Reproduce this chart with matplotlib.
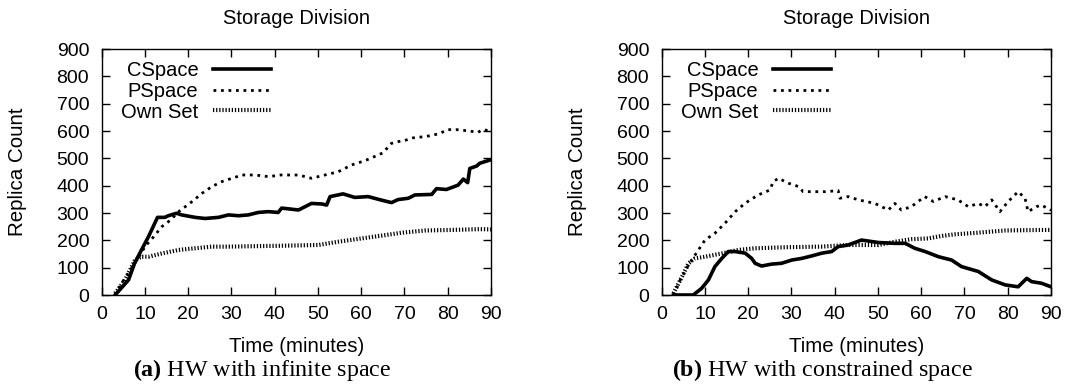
import numpy as np
import matplotlib
matplotlib.use('Agg')
import matplotlib.pyplot as plt

plt.rcParams['font.family'] = ['Liberation Sans', 'DejaVu Sans']
plt.rcParams['font.size'] = 14
plt.rcParams['mathtext.fontset'] = 'custom'
plt.rcParams['mathtext.rm'] = 'Liberation Serif'
plt.rcParams['mathtext.bf'] = 'Liberation Serif:bold'

# (a) HW with infinite space
a_cs_x = [3.1, 6.2, 7.6, 9.6, 10.8, 11.9, 12.9, 14.6, 15.4, 17.3, 18.5, 21.6, 23.9, 27.0, 29.3, 31.6, 33.9, 36.2,
          38.5, 40.8, 41.6, 45.5, 48.5, 50.9, 52.0, 52.8, 55.8, 58.5, 61.6, 64.7, 67.0, 68.5, 70.9, 72.4, 76.3,
          77.4, 79.7, 82.4, 83.6, 84.6, 85.1, 86.7, 87.4, 90.0]
a_cs_y = [0, 55, 116, 177, 213, 250, 284, 284, 290, 299, 293, 284, 280, 284, 293, 290, 293, 302,
          305, 302, 318, 311, 335, 333, 329, 360, 370, 357, 360, 347, 338, 349, 354, 366, 368,
          389, 386, 402, 424, 411, 463, 472, 482, 495]
a_ps_x = [3.1, 4.6, 6.9, 8.9, 10.0, 12.0, 13.9, 15.9, 17.8, 20.9, 23.2, 25.5, 27.8, 30.1, 32.5, 35.5, 38.6, 41.3,
          45.5, 48.5, 51.6, 54.7, 57.8, 60.8, 63.9, 65.0, 67.0, 68.5, 70.0, 72.0, 75.0, 78.0, 80.0, 82.0, 85.0,
          87.0, 88.0, 90.0]
a_ps_y = [0, 43, 98, 147, 177, 213, 250, 274, 305, 342, 372, 397, 415, 427, 439, 439, 433, 439,
          439, 427, 439, 451, 476, 491, 512, 520, 555, 561, 565, 575, 580, 590, 605, 605, 600,
          595, 605, 600]
a_os_x = [3.1, 5.4, 7.7, 9.2, 10.8, 13.9, 17.8, 21.6, 25.5, 29.3, 40.8, 50.1, 54.7, 60.1, 65.5, 69.4, 74.8, 80.9,
          87.4, 90.0]
a_os_y = [6, 55, 128, 140, 140, 152, 165, 171, 177, 177, 180, 183, 195, 207, 219, 228, 236, 238,
          241, 240]

# (b) HW with constrained space
b_cs_x = [2.7, 7.3, 9.2, 10.8, 12.3, 13.9, 15.4, 17.0, 19.3, 20.8, 21.6, 23.1, 25.4, 27.7, 30.1, 32.4, 34.7, 37.0,
          39.3, 40.8, 43.1, 46.2, 50.1, 53.9, 56.3, 58.5, 60.9, 64.0, 67.0, 69.3, 73.2, 76.3, 79.4, 82.4, 84.4,
          85.5, 87.8, 90.0]
b_cs_y = [0, 0, 24, 55, 104, 134, 159, 159, 153, 134, 116, 106, 113, 116, 128, 134, 143, 153,
          159, 177, 183, 201, 192, 189, 189, 171, 159, 140, 128, 104, 86, 55, 37, 30, 61,
          49, 43, 30]
b_ps_x = [2.7, 4.3, 6.2, 8.5, 10.0, 12.3, 14.6, 17.0, 19.3, 22.3, 25.0, 25.8, 27.0, 29.3, 31.6, 32.7, 34.7, 37.8,
          40.8, 41.2, 43.1, 45.5, 49.3, 52.4, 53.9, 55.4, 57.7, 60.8, 62.8, 65.5, 68.5, 70.9, 73.2, 74.7, 76.3,
          78.2, 80.1, 82.4, 84.0, 84.7, 86.6, 87.8, 90.0]
b_ps_y = [0, 55, 110, 165, 201, 226, 262, 305, 336, 366, 384, 415, 427, 409, 397, 378, 378, 378,
          382, 354, 360, 348, 335, 311, 335, 311, 323, 360, 342, 360, 348, 323, 335, 323, 348,
          305, 342, 378, 354, 305, 323, 329, 310]
b_os_x = [2.7, 4.7, 6.2, 7.7, 10.0, 13.9, 17.8, 21.6, 29.3, 37.0, 43.1, 50.1, 53.9, 57.7, 61.6, 64.7, 67.8, 73.2,
          79.4, 87.8, 90.0]
b_os_y = [6, 67, 116, 134, 140, 152, 165, 171, 175, 177, 183, 183, 195, 204, 207, 216, 222, 228,
          236, 238, 238]

panels = [
    (a_cs_x, a_cs_y, a_ps_x, a_ps_y, a_os_x, a_os_y, 'a', 'HW with infinite space'),
    (b_cs_x, b_cs_y, b_ps_x, b_ps_y, b_os_x, b_os_y, 'b', 'HW with constrained space'),
]
labels = ['CSpace', 'PSpace', 'Own Set']

W, H = 1065, 386
fig = plt.figure(figsize=(W / 100, H / 100), dpi=100)

lefts = [101.7, 661.7]
for i, (csx, csy, psx, psy, osx, osy, tag, cap) in enumerate(panels):
    x0 = lefts[i]
    ax = fig.add_axes([x0 / W, (H - 295) / H, 389.3 / W, 246 / H])
    ax.plot(csx, csy, color='black', lw=2.6, solid_joinstyle='round', label=labels[0])
    ax.plot(psx, psy, color='black', lw=2.0, linestyle=(0, (1.0, 1.7)), label=labels[1])
    ax.plot(osx, osy, color='black', lw=3.0, linestyle=(0, (0.3, 0.45)), label=labels[2])
    ax.set_xlim(0, 90)
    ax.set_ylim(0, 900)
    ax.set_xticks(np.arange(0, 91, 10))
    ax.set_yticks(np.arange(0, 901, 100))
    ax.tick_params(direction='in', length=6, width=1, top=True, right=True, labelsize=14)
    ax.tick_params(axis='x', pad=8)
    ax.tick_params(axis='y', pad=9)
    for s in ax.spines.values():
        s.set_linewidth(1.0)
    ax.legend(loc='upper left', bbox_to_anchor=(0.05, 0.95), frameon=False, markerfirst=False,
              fontsize=14.5, handlelength=2.9, handletextpad=0.7, labelspacing=0.08,
              borderpad=0, borderaxespad=0)
    xc = (x0 + 389.3 / 2) / W
    fig.text(xc, 1 - 18.5 / H, 'Storage Division', ha='center', va='center', fontsize=14.5)
    fig.text(xc, 1 - 347 / H, 'Time (minutes)', ha='center', va='center', fontsize=14.7)
    fig.text(xc - 34 / W, 1 - 370 / H, r'$\mathbf{(' + tag + r')}$ ' + cap, ha='center', va='center',
             fontsize=17.3, family='Liberation Serif')
    fig.text((x0 - 84.5) / W, (H - 172) / H, 'Replica Count', rotation=90, ha='center', va='center',
             fontsize=14.8)

fig.savefig('out.png', dpi=100)
